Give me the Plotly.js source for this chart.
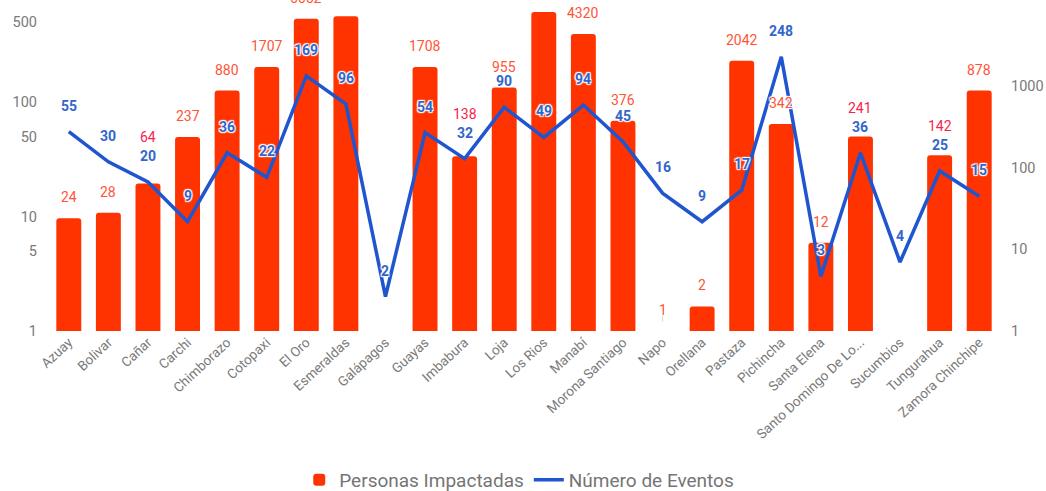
<!DOCTYPE html>
<html>
<head>
<meta charset="utf-8">
<script src="https://cdn.plot.ly/plotly-3.0.1.min.js"></script>
<style>
html,body{margin:0;padding:0;background:#fff;}
#chart{width:1046px;height:491px;}
</style>
</head>
<body>
<div id="chart"></div>
<script>
const categorias = ["Azuay","Bolivar","Cañar","Carchi","Chimborazo","Cotopaxi","El Oro","Esmeraldas","Galápagos","Guayas","Imbabura","Loja","Los Rios","Manabí","Morona Santiago","Napo","Orellana","Pastaza","Pichincha","Santa Elena","Santo Domingo De Lo...","Sucumbios","Tungurahua","Zamora Chinchipe"];
const personasImpactadas = [24, 28, 64, 237, 880, 1707, 6652, 7150, null, 1708, 138, 955, 8030, 4320, 376, 1, 2, 2042, 342, 12, 241, null, 142, 878];
const numeroEventos = [55, 30, 20, 9, 36, 22, 169, 96, 2, 54, 32, 90, 49, 94, 45, 16, 9, 17, 248, 3, 36, 4, 25, 15];
const ticksIzq = [1, 5, 10, 50, 100, 500];
const ticksDer = [1, 10, 100, 1000];

const FONT = "Roboto, 'Noto Sans', sans-serif";
const plotTop = 5, plotBottom = 331;
const pxH = plotBottom - plotTop;
const pxPerDecLeft = 114.5, pxPerDecRight = 81.67;
const halo = "1px 1px 1px #fff, -1px -1px 1px #fff, 1px -1px 1px #fff, -1px 1px 1px #fff, 0 0 2px #fff";
const RED_OFF = 21, BLUE_OFF = 26;

const traces = [
  {
    type: "bar", name: "Personas Impactadas",
    x: categorias, y: personasImpactadas, yaxis: "y",
    marker: {color: "#ff3300", cornerradius: 3},
    hoverinfo: "x+y"
  },
  {
    type: "scatter", mode: "lines", name: "Número de Eventos",
    x: categorias, y: numeroEventos, yaxis: "y2",
    line: {color: "#1f55cf", width: 3.5},
    hoverinfo: "x+y"
  }
];

const annotations = [];
const shapes = [];
categorias.forEach((c, i) => {
  const e = numeroEventos[i];
  const p = personasImpactadas[i];
  // pixel heights above the plot bottom (used only to place labels / avoid collisions)
  const blueUp = Math.log10(e) * pxPerDecLeft + BLUE_OFF;
  if (p !== null && p !== undefined) {
    let redUp = Math.log10(p) * pxPerDecRight + RED_OFF;
    let color = "#ff5536";
    const d = redUp - blueUp;
    if (d < 13 && d > -20) { redUp = blueUp + 19; color = "#f7234e"; }
    // labels that would sit above the visible chart are not drawn (as in the original)
    if (plotBottom - redUp > -3) {
      annotations.push({
        x: c, xref: "x", yref: "y", y: Math.log10(p),
        text: String(p), showarrow: false,
        yshift: redUp - Math.log10(p) * pxPerDecRight,
        font: {family: FONT, size: 14, color: color, shadow: halo}
      });
    }
  }
  annotations.push({
    x: c, xref: "x", yref: "y2", y: Math.log10(e),
    text: String(e), showarrow: false, yshift: BLUE_OFF,
    font: {family: FONT, size: 14, color: "#3366cc", weight: 700, shadow: halo}
  });
  shapes.push({
    type: "line", layer: "below", xref: "x", yref: "y2",
    x0: c, x1: c, y0: Math.log10(e), y1: Math.log10(e) + 19 / pxPerDecLeft,
    line: {color: "#dcdcdc", width: 1}
  });
});

const layout = {
  width: 1046, height: 491,
  margin: {l: 49, r: 47, t: plotTop, b: 491 - plotBottom, autoexpand: false},
  paper_bgcolor: "#fff", plot_bgcolor: "#fff",
  font: {family: FONT, color: "#777"},
  bargap: 0.37,
  showlegend: true,
  legend: {
    orientation: "h", x: 0.495, xanchor: "center", y: (plotBottom - 480) / pxH, yanchor: "middle",
    font: {family: FONT, size: 19, color: "#757575"}, traceorder: "normal"
  },
  xaxis: {
    type: "category", tickangle: -43, showgrid: false, zeroline: false, showline: false,
    ticks: "", tickfont: {family: FONT, size: 13.5, color: "#7a7a7a"}
  },
  yaxis: {
    type: "log", side: "right", range: [0, pxH / pxPerDecRight],
    tickmode: "array", tickvals: ticksDer, ticktext: ticksDer.map(String),
    showgrid: false, zeroline: false, showline: false, ticks: "",
    ticklabelstandoff: 11,
    tickfont: {family: FONT, size: 14.5, color: "#7a7a7a"}
  },
  yaxis2: {
    type: "log", side: "left", overlaying: "y", range: [0, pxH / pxPerDecLeft],
    tickmode: "array", tickvals: ticksIzq, ticktext: ticksIzq.map(String),
    showgrid: false, zeroline: false, showline: false, ticks: "",
    ticklabelstandoff: 11,
    tickfont: {family: FONT, size: 14.5, color: "#7a7a7a"}
  },
  annotations: annotations,
  shapes: shapes
};

Plotly.newPlot("chart", traces, layout, {displayModeBar: false, staticPlot: true});
</script>
</body>
</html>
